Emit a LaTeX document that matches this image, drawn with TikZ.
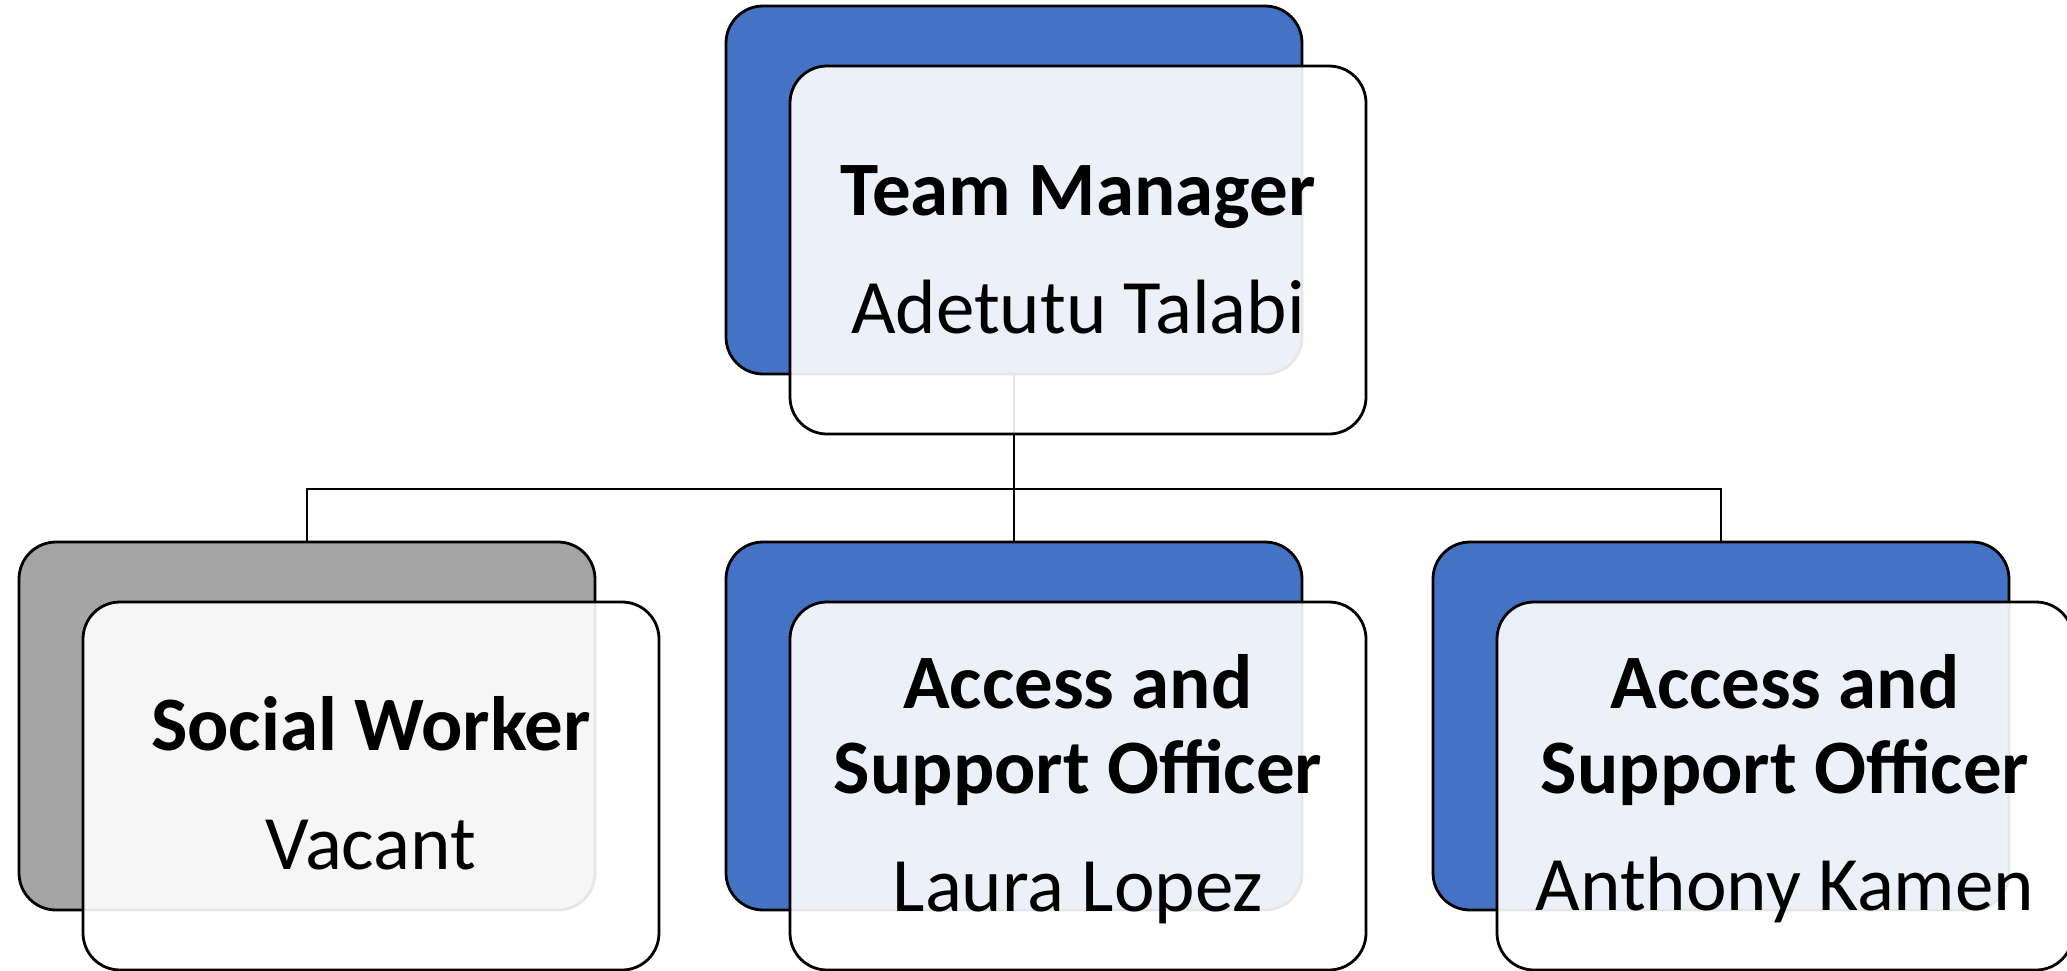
\documentclass[tikz,border=0pt]{standalone}
\usepackage{fontspec}
\setmainfont{Carlito}
\definecolor{accblue}{HTML}{4472C4}
\definecolor{accgray}{HTML}{A5A5A5}
\begin{document}
\begin{tikzpicture}[x=1pt,y=-1pt]
\tikzset{
 backbox/.style={draw=black, line width=2.8pt, rounded corners=37pt, minimum width=576pt, minimum height=368pt, inner sep=0pt},
 blueback/.style={backbox, fill=accblue},
 grayback/.style={backbox, fill=accgray},
 frontbox/.style={draw=black, line width=2.8pt, rounded corners=37pt, fill=white, fill opacity=0.9, draw opacity=1, minimum width=576pt, minimum height=368pt, inner sep=0pt},
 titletext/.style={font=\fontsize{77}{80}\selectfont\bfseries, anchor=base, inner sep=0pt},
 nametext/.style={font=\fontsize{77}{80}\selectfont, anchor=base, inner sep=0pt},
 conn/.style={draw=black, line width=2.3pt}
}
\useasboundingbox (0,0) rectangle (2067,970);
% back boxes
\node[blueback] (tmb) at (1014,190) {};
\node[grayback] (swb) at (307,726) {};
\node[blueback] (aab) at (1014,726) {};
\node[blueback] (akb) at (1721,726) {};
% connectors
\coordinate (bus) at (1014,489);
\draw[conn] (tmb.south) -- (bus);
\draw[conn] (bus) -- (aab.north);
\draw[conn] (bus) -| (swb.north);
\draw[conn] (bus) -| (akb.north);
% front boxes
\node[frontbox] (tmf) at (1078,250) {};
\node[frontbox] (swf) at (371,786) {};
\node[frontbox] (aaf) at (1078,786) {};
\node[frontbox] (akf) at (1785,786) {};
% texts
\node[titletext] (tmt) at (1078,215) {Team Manager};
\node[nametext] (tmn) at (1078,333) {Adetutu Talabi};
\node[titletext] (swt) at (371,750) {Social Worker};
\node[nametext] (swn) at (371,869) {Vacant};
\node[titletext] (aat1) at (1078,708) {Access and};
\node[titletext] (aat2) at (1078,793) {Support Officer};
\node[nametext] (aan) at (1078,911) {Laura Lopez};
\node[titletext] (akt1) at (1785,708) {Access and};
\node[titletext] (akt2) at (1785,793) {Support Officer};
\node[nametext] (akn) at (1785,910) {Anthony Kamen};
\end{tikzpicture}
\end{document}
